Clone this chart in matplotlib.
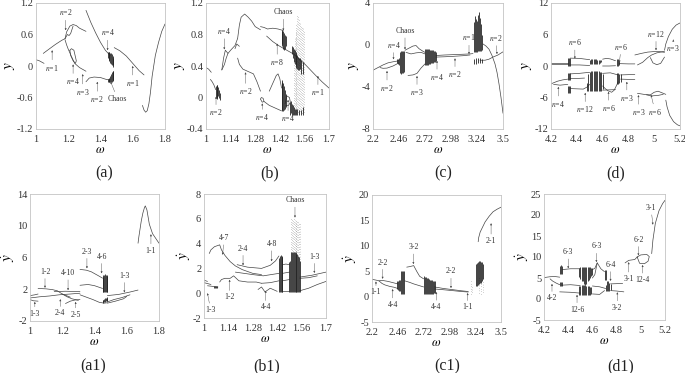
import matplotlib
matplotlib.use('Agg')
import matplotlib.pyplot as plt

plt.rcParams['font.family'] = ['Liberation Serif', 'DejaVu Serif']
plt.rcParams['mathtext.fontset'] = 'stix'

W, H = 685, 373

# (a)
a_xticks = [1, 1.2, 1.4, 1.6, 1.8]
a_yticks = [-1.2, -0.6, 0, 0.6, 1.2]
a_lines = [
    ([1, 1.02, 1.05], [0.12, 0.1, 0.05]),
    ([1.045, 1.08, 1.12, 1.16, 1.18], [0.24, 0.32, 0.41, 0.49, 0.52]),
    ([1.18, 1.19, 1.21, 1.23, 1.25, 1.27, 1.31], [0.52, 0.65, 0.76, 0.79, 0.77, 0.72, 0.66]),
    ([1.18, 1.195, 1.205, 1.215, 1.23], [0.52, 0.6, 0.58, 0.62, 0.76]),
    ([1.18, 1.19, 1.2, 1.22, 1.24, 1.27, 1.31], [0.5, 0.4, 0.32, 0.18, 0.05, -0.03, -0.1]),
    ([1.21, 1.22, 1.235, 1.25, 1.245, 1.23, 1.215, 1.21], [0.3, 0.33, 0.3, 0.1, 0.05, 0.1, 0.2, 0.3]),
    ([1.31, 1.33, 1.36, 1.4, 1.44, 1.46], [-0.3, -0.23, -0.21, -0.22, -0.26, -0.25]),
    ([1.31, 1.34, 1.37, 1.4, 1.43, 1.46], [1.06, 0.83, 0.63, 0.45, 0.3, 0.2]),
    ([1.485, 1.52, 1.56, 1.6, 1.64, 1.67], [0.35, 0.29, 0.19, 0.05, -0.09, -0.17]),
    ([1.66, 1.67, 1.68, 1.69, 1.7, 1.71, 1.72, 1.74, 1.76, 1.78, 1.8],
     [-0.75, -0.84, -0.88, -0.85, -0.72, -0.5, -0.2, 0.2, 0.45, 0.66, 0.8]),
]
a_dark_x = [1.445, 1.45, 1.455, 1.46, 1.465, 1.47, 1.475, 1.48, 1.445, 1.45, 1.455, 1.46, 1.465, 1.47, 1.475, 1.48]
a_dark_lo = [0.16, 0.12, 0.1, 0.06, 0.04, 0.02, -0.02, 0.02, -0.3, -0.3, -0.3, -0.31, -0.3, -0.3, -0.28, -0.26]
a_dark_hi = [0.27, 0.27, 0.26, 0.25, 0.24, 0.22, 0.2, 0.15, -0.24, -0.24, -0.22, -0.19, -0.15, -0.12, -0.1, -0.1]

# (b)
b_xticks = [1, 1.14, 1.28, 1.42, 1.56, 1.7]
b_yticks = [-0.4, 0, 0.4, 0.8, 1.2]
b_lines = [
    ([1, 1.015, 1.03], [0.38, 0.36, 0.32]),
    ([1.025, 1.035, 1.045, 1.055], [0.23, 0.2, 0.16, 0.1]),
    ([1.09, 1.1, 1.11, 1.125, 1.14, 1.165, 1.18], [0.35, 0.5, 0.6, 0.56, 0.6, 0.66, 0.75]),
    ([1.09, 1.105, 1.115, 1.125], [0.35, 0.42, 0.5, 0.56]),
    ([1.18, 1.19, 1.2, 1.22, 1.24, 1.26, 1.28, 1.31], [0.75, 0.92, 1.02, 1.06, 1.02, 0.97, 0.9, 0.86]),
    ([1.165, 1.175, 1.19], [0.62, 0.68, 0.65]),
    ([1.18, 1.19, 1.21, 1.24, 1.27, 1.29, 1.31], [0.5, 0.42, 0.36, 0.33, 0.3, 0.2, 0.08]),
    ([1.31, 1.33, 1.35, 1.38, 1.41, 1.44], [0.9, 0.89, 0.87, 0.88, 0.87, 0.85]),
    ([1.345, 1.38, 1.42, 1.46, 1.5, 1.56, 1.62, 1.66, 1.7], [0.78, 0.71, 0.65, 0.6, 0.55, 0.43, 0.29, 0.2, 0.12]),
    ([1.36, 1.38, 1.4, 1.41, 1.42, 1.43], [0.08, 0.18, 0.28, 0.3, 0.24, 0.12]),
    ([1.31, 1.315, 1.325, 1.33, 1.36, 1.4, 1.43], [-0.02, 0, -0.01, -0.05, -0.1, -0.14, -0.17]),
    ([1.31, 1.32, 1.33], [-0.02, -0.06, -0.05]),
    ([1.45, 1.46, 1.475, 1.48, 1.47, 1.455], [-0.08, 0.02, 0.0, -0.06, -0.1, -0.1]),
]
b_dark_x = [1.055, 1.06, 1.065, 1.07, 1.075, 1.08, 1.43, 1.435, 1.44, 1.445, 1.45, 1.455,
            1.43, 1.435, 1.44, 1.445, 1.45, 1.455, 1.48, 1.485, 1.49, 1.495, 1.5, 1.505, 1.51, 1.52, 1.53, 1.54, 1.55,
            1.49, 1.495, 1.5, 1.505, 1.51, 1.515, 1.52, 1.525, 1.53, 1.535, 1.54, 1.55]
b_dark_lo = [0, -0.02, 0, 0.02, 0, -0.03, -0.16, -0.17, -0.17, -0.16, -0.14, -0.12,
             0.68, 0.65, 0.62, 0.6, 0.62, 0.66, -0.22, -0.2, -0.22, -0.22, -0.22, -0.22, -0.22, -0.22, -0.22, -0.22, -0.22,
             0.55, 0.5, 0.45, 0.42, 0.4, 0.38, 0.36, 0.35, 0.35, 0.36, 0.3, 0.3]
b_dark_hi = [0.15, 0.16, 0.16, 0.13, 0.1, 0.06, 0.2, 0.22, 0.18, 0.14, 0.1, 0.05,
             0.85, 0.86, 0.84, 0.82, 0.8, 0.78, -0.06, -0.04, -0.08, -0.1, -0.12, -0.14, -0.15, -0.15, -0.16, -0.16, -0.12,
             0.65, 0.64, 0.62, 0.6, 0.58, 0.55, 0.54, 0.52, 0.5, 0.5, 0.48, 0.45]
b_light_x = [1.5, 1.505, 1.51, 1.515, 1.52, 1.525, 1.53, 1.535, 1.54, 1.545, 1.55, 1.555]
b_light_lo = [-0.2, -0.2, -0.2, -0.2, -0.2, -0.2, -0.2, -0.2, -0.2, -0.2, -0.2, -0.2]
b_light_hi = [0.6, 0.75, 0.85, 0.95, 1.05, 1.05, 1.0, 0.95, 0.92, 0.9, 0.88, 0.85]

# (c)
c_xticks = [2.2, 2.46, 2.72, 2.98, 3.24, 3.5]
c_yticks = [-8, -4, 0, 4]
c_lines = [
    ([2.2, 2.25, 2.3, 2.35, 2.4, 2.46], [-2.4, -2.15, -1.9, -1.7, -1.6, -1.5]),
    ([2.27, 2.3, 2.34, 2.4, 2.46], [-2.15, -2.22, -2.2, -2.0, -1.7]),
    ([2.52, 2.56, 2.6, 2.63, 2.66, 2.7, 2.72], [-0.5, -0.3, -0.1, -0.05, -0.35, -0.6, -0.7]),
    ([2.53, 2.58, 2.63, 2.68, 2.72], [-0.7, -0.85, -0.75, -0.7, -0.85]),
    ([2.55, 2.6, 2.64, 2.68, 2.72], [-2.9, -2.85, -2.7, -2.2, -1.8]),
    ([2.83, 2.92, 3.0, 3.1, 3.17, 3.2], [-1.0, -0.95, -0.92, -0.88, -0.85, -0.82]),
    ([2.83, 2.92, 3.0, 3.1, 3.17], [-1.15, -1.12, -1.08, -1.02, -0.95]),
    ([3.27, 3.32, 3.36, 3.4, 3.45, 3.5], [-1.45, -1.45, -1.35, -1.15, -0.95, -0.65]),
    ([3.3, 3.33, 3.36, 3.39, 3.42, 3.44, 3.46, 3.48, 3.5], [0.1, -0.1, -0.4, -1.0, -1.8, -2.6, -3.7, -5.0, -6.5]),
]
c_dark_x = [2.44, 2.45, 2.46, 2.47, 2.48, 2.49, 2.5, 2.51, 2.72, 2.73, 2.74, 2.75, 2.76, 2.77, 2.78, 2.79, 2.8, 2.81, 2.82, 2.83,
            3.21, 3.22, 3.23, 3.24, 3.25, 3.26, 3.27, 3.28, 3.29, 3.21, 3.23, 3.25, 3.27, 3.29]
c_dark_lo = [-1.75, -1.8, -1.9, -2.7, -2.8, -2.7, -2.7, -2.6, -1.95, -1.95, -1.9, -1.9, -1.85, -1.8, -1.75, -1.75, -1.7, -1.6, -1.6, -1.5,
             -0.7, -0.7, -0.7, -0.7, -0.6, -0.6, -0.6, -0.6, -0.5, -1.8, -1.8, -1.7, -1.7, -1.7]
c_dark_hi = [-1.35, -1.3, -1.2, -0.7, -0.6, -0.6, -0.55, -0.6, -0.4, -0.35, -0.35, -0.35, -0.4, -0.45, -0.45, -0.5, -0.5, -0.6, -0.6, -0.7,
             2.2, 2.8, 2.5, 2.3, 2.9, 3.1, 2.6, 2.0, 1.0, -1.3, -1.2, -1.2, -1.2, -1.3]

# (d)
d_xticks = [4.2, 4.4, 4.6, 4.8, 5, 5.2]
d_yticks = [-12, -6, 0, 6, 12]
d_lines = [
    ([4.2, 4.27, 4.33], [0.5, 0.5, 0.5]),
    ([4.2, 4.27, 4.33], [0.3, 0.3, 0.3]),
    ([4.35, 4.42, 4.5], [1.5, 1.45, 1.2]),
    ([4.35, 4.42, 4.5], [0.2, 0.2, 0.1]),
    ([4.6, 4.63, 4.66, 4.7], [1.3, 1.45, 1.35, 1.0]),
    ([4.6, 4.65, 4.7], [0, 0, 0.05]),
    ([4.73, 4.8, 4.85], [0.45, 0.4, 0.4]),
    ([4.2, 4.25, 4.29, 4.33], [-3.4, -2.9, -2.65, -2.5]),
    ([4.22, 4.27, 4.33], [-3.5, -3.65, -3.5]),
    ([4.35, 4.42, 4.5], [-1.5, -1.4, -1.2]),
    ([4.35, 4.42, 4.46], [-2.4, -2.35, -2.3]),
    ([4.35, 4.4, 4.45, 4.48, 4.5], [-4.3, -4.35, -4.4, -4.0, -3.5]),
    ([4.6, 4.62, 4.64, 4.67, 4.69, 4.71, 4.72], [-3.8, -4.3, -4.7, -5.0, -4.6, -3.6, -3.0]),
    ([4.6, 4.65, 4.7], [-4.6, -4.55, -4.5]),
    ([4.6, 4.66, 4.72], [-1.4, -1.3, -1.7]),
    ([4.74, 4.8, 4.85], [-1.7, -1.65, -1.6]),
    ([4.74, 4.8, 4.85], [-2.5, -2.55, -2.6]),
    ([4.85, 4.9, 4.95, 5.0, 5.04, 5.08], [2.1, 2.4, 2.65, 2.75, 2.75, 2.6]),
    ([4.87, 4.91, 4.95, 4.98, 5.02, 5.08], [0.2, 0.7, 1.6, 2.1, 2.5, 2.8]),
    ([4.97, 4.99, 5.02, 5.05, 5.08], [1.6, 0.6, 0.25, 0.5, 1.7]),
    ([5.08, 5.09, 5.11, 5.14, 5.17, 5.2], [3.0, 4.2, 5.6, 7.0, 7.8, 8.2]),
    ([4.87, 4.92, 4.97, 5.0, 5.03, 5.06, 5.09], [-5.2, -5.4, -5.5, -5.0, -4.8, -5.1, -5.4]),
    ([4.94, 4.98, 5.03, 5.07], [-5.5, -5.7, -5.6, -5.4]),
    ([5.09, 5.1, 5.12, 5.15, 5.18, 5.2], [-6.5, -7.8, -9.4, -10.6, -11.2, -11.4]),
]
d_dark_x = [4.33, 4.34, 4.35, 4.33, 4.34, 4.35, 4.33, 4.34, 4.35,
            4.5, 4.51, 4.52, 4.53, 4.54, 4.55, 4.56, 4.57, 4.58, 4.59,
            4.48, 4.49, 4.5, 4.51, 4.52, 4.53, 4.54, 4.55, 4.56, 4.57, 4.58, 4.59, 4.6,
            4.71, 4.72, 4.73, 4.74, 4.71, 4.72, 4.73]
d_dark_lo = [0, 0, 0, -2.7, -2.7, -2.7, -5.1, -5.1, -5.1,
             0.4, 0.35, 0.3, 0.3, 0.3, 0.3, 0.35, 0.4, 0.5, 0.7,
             -4.7, -4.8, -4.8, -4.8, -4.8, -4.8, -4.8, -4.8, -4.8, -4.8, -4.8, -4.7, -4.4,
             -3.4, -3.4, -3.3, -3.1, 0, 0, 0.1]
d_dark_hi = [1.6, 1.6, 1.6, -1.4, -1.4, -1.4, -3.9, -3.9, -3.9,
             1.2, 1.3, 1.3, 1.3, 1.3, 1.25, 1.2, 1.15, 1.1, 1.1,
             -3.3, -1.5, -1.2, -1.0, -1.0, -1.0, -1.0, -1.0, -1.0, -1.0, -1.1, -1.2, -1.6,
             -1.4, -1.4, -1.5, -1.6, 1.3, 1.3, 1.0]

# (a1)
a1_xticks = [1, 1.2, 1.4, 1.6, 1.8]
a1_yticks = [-2, 2, 6, 10, 14]
a1_lines = [
    ([1, 1.03, 1.05], [1.2, 1.3, 1.4]),
    ([1, 1.06, 1.12, 1.18, 1.25, 1.31], [0.9, 1.05, 1.15, 1.3, 1.4, 1.5]),
    ([1, 1.02, 1.05], [0.7, 0.55, 0.5]),
    ([1.05, 1.1, 1.14, 1.17, 1.2, 1.25], [2.1, 2.05, 1.95, 1.8, 1.4, 1.0]),
    ([1.15, 1.22, 1.31], [1.7, 1.75, 1.7]),
    ([1.2, 1.23, 1.26, 1.3], [1.4, 1.05, 0.8, 0.6]),
    ([1.22, 1.25, 1.28, 1.31], [0.2, 0.5, 0.65, 0.7]),
    ([1.31, 1.35, 1.38, 1.42, 1.45], [4.5, 4.4, 4.2, 3.75, 3.4]),
    ([1.31, 1.36, 1.4, 1.45], [2.5, 2.6, 2.45, 2.1]),
    ([1.31, 1.35, 1.39, 1.43, 1.46, 1.48], [1.3, 1.0, 0.7, 0.35, 0.25, 0.3]),
    ([1.48, 1.52, 1.57, 1.62], [0.4, 0.7, 0.95, 1.3]),
    ([1.48, 1.53, 1.58, 1.6], [0.25, 0.5, 0.8, 1.1]),
    ([1.48, 1.55, 1.62, 1.67], [1.2, 1.35, 1.65, 1.9]),
    ([1.67, 1.675, 1.69, 1.7, 1.71, 1.715, 1.725, 1.74, 1.76, 1.78, 1.8],
     [7.8, 8.6, 10.6, 11.6, 12.3, 12.5, 12.0, 10.2, 9.0, 8.4, 7.8]),
]
a1_dark_x = [1.45, 1.455, 1.46, 1.465, 1.47, 1.475, 1.48, 1.45, 1.455, 1.46, 1.465, 1.47, 1.475, 1.48]
a1_dark_lo = [1.7, 1.6, 1.7, 1.6, 1.6, 1.7, 1.7, 0.3, 0.35, 0.4, 0.45, 0.5, 0.5, 0.55]
a1_dark_hi = [3.6, 3.8, 3.8, 3.9, 3.8, 3.8, 3.7, 0.6, 0.7, 0.8, 0.85, 0.9, 0.95, 1.0]

# (b1)
b1_xticks = [1, 1.14, 1.28, 1.42, 1.56, 1.7]
b1_yticks = [-2, 0, 2, 4, 6, 8]
b1_lines = [
    ([1, 1.01, 1.02], [1.05, 1.0, 0.95]),
    ([1, 1.02, 1.04], [0.85, 0.78, 0.7]),
    ([1.02, 1.05, 1.08], [0.6, 0.55, 0.5]),
    ([1.03, 1.04, 1.06, 1.08, 1.09, 1.1, 1.12, 1.15, 1.18, 1.22, 1.28, 1.33],
     [3.2, 3.5, 3.75, 3.85, 3.9, 3.5, 3.05, 2.55, 2.2, 1.9, 1.6, 1.5]),
    ([1.19, 1.25, 1.33, 1.38, 1.41, 1.43], [2.3, 2.1, 2.0, 2.25, 2.6, 3.0]),
    ([1.09, 1.1, 1.12, 1.15, 1.17, 1.2, 1.25, 1.3, 1.33], [0.9, 1.1, 1.2, 1.2, 1.4, 1.0, 0.9, 0.9, 0.8]),
    ([1.18, 1.28, 1.34, 1.43], [1.7, 1.5, 1.4, 1.6]),
    ([1.31, 1.33, 1.35, 1.38, 1.42], [0.3, 0.5, 0.1, 0.4, 0.15]),
    ([1.33, 1.38, 1.43], [0.8, 0.85, 1.0]),
    ([1.45, 1.47, 1.49], [2.3, 2.35, 2.3]),
    ([1.45, 1.47, 1.49], [1.6, 1.65, 1.7]),
    ([1.45, 1.47, 1.49], [1.0, 1.05, 1.1]),
    ([1.45, 1.47, 1.49], [0.2, 0.2, 0.2]),
    ([1.55, 1.62, 1.7], [1.3, 1.45, 1.7]),
    ([1.55, 1.6, 1.65], [1.2, 1.25, 1.4]),
    ([1.55, 1.6, 1.65, 1.7], [0.2, 0.4, 0.7, 0.95]),
]
b1_dark_x = [1.06, 1.065, 1.07, 1.075, 1.43, 1.435, 1.44, 1.445, 1.45,
             1.49, 1.495, 1.5, 1.505, 1.51, 1.515, 1.52, 1.525, 1.53, 1.535, 1.54, 1.545, 1.55]
b1_dark_lo = [0.4, 0.4, 0.4, 0.4, 0.1, 0.1, 0.1, 0.1, 0.1, 0.1, 0.1, 0.1, 0.1, 0.1, 0.1, 0.1, 0.1, 0.1, 0.1, 0.1, 0.1, 0.1]
b1_dark_hi = [0.6, 0.6, 0.6, 0.6, 2.8, 3.0, 3.05, 3.0, 2.9, 2.5, 2.6, 3.3, 3.3, 3.3, 3.3, 3.3, 3.3, 3.2, 3.2, 3.0, 2.9, 2.6]
b1_light_x = [1.5, 1.505, 1.51, 1.515, 1.52, 1.525, 1.53, 1.535, 1.54, 1.545, 1.55]
b1_light_lo = [3.3, 3.3, 3.3, 3.3, 3.3, 3.3, 3.2, 3.2, 3.0, 2.9, 2.6]
b1_light_hi = [6.0, 6.0, 6.0, 5.95, 5.9, 5.85, 5.8, 5.8, 5.75, 5.7, 5.7]

# (c1)
c1_xticks = [2.2, 2.46, 2.72, 2.98, 3.24, 3.5]
c1_yticks = [-5, 0, 5, 10, 15, 20]
c1_lines = [
    ([2.2, 2.24, 2.27, 2.3, 2.36, 2.42, 2.46], [3.4, 3.25, 3.1, 3.2, 3.0, 2.7, 2.5]),
    ([2.27, 2.3, 2.33, 2.38, 2.42, 2.46], [3.1, 2.6, 2.3, 2.0, 1.85, 1.6]),
    ([2.53, 2.58, 2.62, 2.67, 2.72], [3.1, 2.8, 2.5, 2.2, 1.9]),
    ([2.55, 2.58, 2.62, 2.65, 2.68, 2.72], [5.8, 5.9, 6.1, 5.0, 4.0, 3.5]),
    ([2.83, 2.92, 3.0, 3.1, 3.17], [1.9, 1.6, 1.4, 1.15, 1.0]),
    ([2.83, 2.92, 3.0, 3.1, 3.17], [1.5, 1.35, 1.2, 1.0, 0.9]),
    ([3.27, 3.275, 3.29, 3.31, 3.34, 3.38, 3.42, 3.46, 3.5], [10.8, 11.6, 12.7, 13.5, 14.7, 15.8, 16.7, 17.2, 17.6]),
]
c1_dark_x = [2.45, 2.46, 2.47, 2.48, 2.49, 2.5, 2.51, 2.52, 2.72, 2.73, 2.74, 2.75, 2.76, 2.77, 2.78, 2.79, 2.8, 2.81, 2.82, 2.83,
             3.25, 3.26, 3.27, 3.28, 3.29, 3.3, 3.31, 3.32]
c1_dark_lo = [1.4, 1.3, 1.2, 1.2, 0.5, 0.5, 0.5, 0.5, 0.5, 0.5, 0.45, 0.45, 0.45, 0.5, 0.5, 0.55, 0.55, 0.6, 0.65, 0.7,
              2.0, 2.0, 2.2, 2.4, 2.6, 2.6, 3.0, 3.5]
c1_dark_hi = [3.0, 3.1, 3.2, 3.2, 5.0, 5.1, 5.0, 5.0, 4.0, 3.9, 3.8, 3.7, 3.6, 3.4, 3.3, 3.2, 3.2, 3.1, 3.1, 3.0,
              6.5, 6.6, 6.8, 7.0, 7.0, 6.9, 6.8, 6.5]
c1_light_x = [3.2, 3.21, 3.28, 3.3, 3.32]
c1_light_lo = [0.5, 0.5, 0.5, 0.5, 0.5]
c1_light_hi = [3.0, 2.2, 4.0, 3.0, 3.0]

# (d1)
d1_xticks = [4.2, 4.4, 4.6, 4.8, 5, 5.2]
d1_yticks = [-5, 0, 5, 10, 15, 20, 25]
d1_lines = [
    ([4.2, 4.25, 4.29, 4.33], [5.1, 5.3, 5.35, 5.2]),
    ([4.25, 4.27, 4.3, 4.33], [4.8, 4.3, 3.8, 3.4]),
    ([4.35, 4.42, 4.5], [7.0, 7.2, 7.2]),
    ([4.35, 4.42, 4.5], [3.3, 3.4, 3.2]),
    ([4.33, 4.42, 4.5], [1.7, 1.6, 1.4]),
    ([4.6, 4.62, 4.64, 4.67, 4.7], [7.0, 7.3, 8.6, 7.2, 6.5]),
    ([4.6, 4.62, 4.64], [5.0, 5.8, 8.6]),
    ([4.75, 4.8, 4.85], [3.6, 3.65, 3.7]),
    ([4.75, 4.8, 4.86], [2.0, 1.9, 1.7]),
    ([4.6, 4.66, 4.71], [3.1, 2.9, 2.5]),
    ([4.6, 4.66, 4.7], [1.2, 1.1, 2.0]),
    ([4.87, 4.9, 4.95, 4.97], [8.6, 9.2, 9.4, 10.0]),
    ([4.97, 5.0, 5.05, 5.07, 5.06, 5.03, 4.99, 4.97], [10.0, 10.5, 10.6, 10.1, 9.0, 8.4, 8.5, 10.0]),
    ([5.09, 5.1, 5.12, 5.15, 5.18, 5.2], [10.8, 14.0, 18.0, 21.0, 22.7, 23.5]),
]
d1_dark_x = [4.33, 4.34, 4.35, 4.33, 4.34, 4.35, 4.7, 4.71,
             4.49, 4.5, 4.51, 4.52, 4.53, 4.54, 4.55, 4.56, 4.57, 4.58, 4.59, 4.6,
             4.49, 4.5, 4.51, 4.52, 4.53, 4.54, 4.55, 4.56, 4.57, 4.58, 4.59,
             4.71, 4.72, 4.73, 4.74, 4.75]
d1_dark_lo = [6.0, 5.9, 5.9, 3.0, 3.0, 3.0, 4.6, 4.5,
              5.2, 4.8, 4.4, 4.2, 3.6, 3.4, 3.6, 4.2, 4.6, 5.0, 5.4, 5.8,
              1.0, 1.0, 1.0, 1.0, 1.0, 1.0, 1.0, 1.0, 1.0, 1.0, 1.1,
              1.9, 1.9, 1.9, 2.0, 2.1]
d1_dark_hi = [7.9, 8.0, 7.9, 4.0, 4.0, 4.0, 7.0, 6.8,
              7.5, 7.6, 7.6, 7.6, 7.6, 7.6, 7.6, 7.6, 7.6, 7.6, 7.5, 7.4,
              3.2, 3.2, 3.4, 3.4, 3.4, 3.4, 3.2, 3.1, 3.0, 2.9, 2.8,
              3.4, 4.2, 4.2, 3.8, 3.6]


def panel(box, xlim, ylim, xticks, yticks, lines, dark, light=None, ylab='$y$', caption='', capx=0, capy=0):
    l, t, r, b = box
    ax = fig.add_axes([l / W, 1 - b / H, (r - l) / W, (b - t) / H])
    for x, y in lines:
        ax.plot(x, y, color='#444444', lw=0.5, solid_capstyle='round')
    if light is not None:
        ax.vlines(light[0], light[1], light[2], color='#666666', lw=0.5,
                  linestyles=[(0, (0.6, 3)), (1.1, (0.6, 3)), (2.3, (0.6, 3))])
    ax.vlines(dark[0], dark[1], dark[2], color='#222222', lw=0.6)
    ax.set_xlim(xlim)
    ax.set_ylim(ylim)
    ax.set_xticks(xticks, [f'{v:g}' for v in xticks])
    ax.set_yticks(yticks, [f'{v:g}' for v in yticks])
    ax.tick_params(length=0, labelsize=7.5, colors='#333333')
    ax.tick_params(axis='x', pad=4.5)
    ax.tick_params(axis='y', pad=2)
    for s in ax.spines.values():
        s.set_color('#c4c4c4')
        s.set_linewidth(0.6)
    ax.set_xlabel(r'$\omega$', fontsize=9, labelpad=0)
    ax.set_ylabel(ylab, fontsize=11, labelpad=0)
    fig.text(capx / W, 1 - capy / H, caption, fontsize=11.5, ha='center', va='center', color='#222222')
    return ax


def note(ax, label, tip, txt):
    ax.annotate(label, xy=tip, xytext=txt, fontsize=5.6, ha='center', va='center', color='#333333',
                arrowprops=dict(arrowstyle='-|>', lw=0.3, color='#444444', mutation_scale=2.5,
                                shrinkA=0, shrinkB=0))


fig = plt.figure(figsize=(W / 100, H / 100), dpi=100)
N = r'$n$='
YD = r'$\dot{y}$'

ax = panel((36, 3, 165, 129), (1, 1.8), (-1.2, 1.2), a_xticks, a_yticks, a_lines,
           (a_dark_x, a_dark_lo, a_dark_hi), caption='(a)', capx=104, capy=173)
note(ax, N + '1', (1.10, 0.3), (1.10, -0.03))
note(ax, N + '2', (1.184, 0.68), (1.184, 1.02))
note(ax, N + '4', (1.23, 0.03), (1.23, -0.29))
note(ax, N + '3', (1.29, -0.155), (1.29, -0.49))
note(ax, N + '2', (1.38, -0.30), (1.38, -0.63))
note(ax, 'Chaos', (1.463, -0.30), (1.505, -0.62))
note(ax, N + '4', (1.444, 0.30), (1.444, 0.64))
note(ax, N + '1', (1.60, 0.0), (1.60, -0.32))

ax = panel((206, 3, 329, 129), (1, 1.7), (-0.4, 1.2), b_xticks, b_yticks, b_lines,
           (b_dark_x, b_dark_lo, b_dark_hi), (b_light_x, b_light_lo, b_light_hi), caption='(b)', capx=270, capy=173)
note(ax, N + '2', (1.057, 0.01), (1.057, -0.19))
note(ax, N + '4', (1.104, 0.61), (1.104, 0.845))
note(ax, N + '2', (1.225, 0.32), (1.225, 0.08))
note(ax, N + '4', (1.32, -0.075), (1.32, -0.25))
note(ax, N + '8', (1.405, 0.685), (1.405, 0.45))
note(ax, 'Chaos', (1.44, 0.85), (1.44, 1.08))
note(ax, N + '4', (1.467, -0.03), (1.467, -0.265))
note(ax, N + '1', (1.637, 0.275), (1.637, 0.065))

ax = panel((373, 3, 503, 129), (2.2, 3.5), (-8, 4), c_xticks, c_yticks, c_lines,
           (c_dark_x, c_dark_lo, c_dark_hi), caption='(c)', capx=443, capy=173)
note(ax, N + '2', (2.34, -2.47), (2.34, -4.08))
note(ax, N + '4', (2.405, -1.37), (2.405, 0.02))
note(ax, 'Chaos', (2.52, -0.42), (2.52, 1.32))
note(ax, N + '3', (2.64, -2.95), (2.64, -4.5))
note(ax, N + '4', (2.84, -1.5), (2.84, -3.05))
note(ax, N + '2', (3.02, -1.27), (3.02, -2.8))
note(ax, N + '1', (3.16, -0.86), (3.16, 0.72))
note(ax, N + '2', (3.44, -0.86), (3.43, 0.68))

ax = panel((551, 3, 680, 129), (4.2, 5.2), (-12, 12), d_xticks, d_yticks, d_lines,
           (d_dark_x, d_dark_lo, d_dark_hi), caption='(d)', capx=616, capy=173)
note(ax, N + '6', (4.385, 1.42), (4.385, 4.53))
note(ax, N + '6', (4.73, 0.66), (4.744, 3.7))
note(ax, N + '12', (5.014, 3.0), (5.014, 6.17))
note(ax, N + '3', (5.148, 5.03), (5.148, 3.45))
note(ax, N + '3', (4.788, -3.0), (4.788, -6.05))
note(ax, N + '3', (4.878, -5.54), (4.878, -8.77))
note(ax, N + '6', (4.976, -5.54), (5.007, -8.7))
note(ax, N + '12', (4.465, -5.1), (4.465, -8.27))
note(ax, N + '6', (4.646, -4.9), (4.646, -8.0))
note(ax, N + '4', (4.257, -3.96), (4.257, -7.2))

ax = panel((30, 194, 159, 321), (1, 1.8), (-2, 14), a1_xticks, a1_yticks, a1_lines,
           (a1_dark_x, a1_dark_lo, a1_dark_hi), ylab=YD, caption='(a1)', capx=93, capy=366)
note(ax, '1-2', (1.093, 2.18), (1.093, 4.2))
note(ax, '4-10', (1.236, 1.88), (1.236, 4.04))
note(ax, '2-3', (1.353, 4.63), (1.353, 6.74))
note(ax, '4-6', (1.444, 4.0), (1.444, 6.1))
note(ax, '1-3', (1.585, 1.59), (1.585, 3.7))
note(ax, '1-1', (1.75, 8.93), (1.75, 6.87))
note(ax, '1-3', (1.03, 0.41), (1.03, -1.07))
note(ax, '2-4', (1.188, 0.75), (1.188, -1.03))
note(ax, '2-5', (1.283, 0.41), (1.283, -1.2))

ax = panel((204, 194, 326, 318), (1, 1.7), (-2, 8), b1_xticks, b1_yticks, b1_lines,
           (b1_dark_x, b1_dark_lo, b1_dark_hi), (b1_light_x, b1_light_lo, b1_light_hi), ylab=YD,
           caption='(b1)', capx=267, capy=366)
note(ax, '1-3', (1.02, 0.0), (1.038, -1.35))
note(ax, '4-7', (1.107, 3.1), (1.115, 4.45))
note(ax, '2-4', (1.224, 2.25), (1.224, 3.6))
note(ax, '4-8', (1.388, 2.57), (1.388, 3.97))
note(ax, 'Chaos', (1.522, 6.1), (1.522, 7.49))
note(ax, '1-3', (1.633, 1.63), (1.633, 2.95))
note(ax, '1-2', (1.147, 1.09), (1.147, -0.33))
note(ax, '4-4', (1.354, 0.2), (1.354, -1.14))

ax = panel((372, 195, 501, 322), (2.2, 3.5), (-5, 20), c1_xticks, c1_yticks, c1_lines,
           (c1_dark_x, c1_dark_lo, c1_dark_hi), (c1_light_x, c1_light_lo, c1_light_hi), ylab=YD,
           caption='(c1)', capx=447, capy=366)
note(ax, '2-2', (2.307, 3.5), (2.307, 6.7))
note(ax, '1-1', (2.24, 2.98), (2.24, 0.82))
note(ax, '4-4', (2.408, 1.48), (2.408, -1.6))
note(ax, '3-2', (2.617, 6.39), (2.617, 9.73))
note(ax, '4-4', (2.848, 0.9), (2.848, -2.05))
note(ax, '2-2', (2.996, 1.68), (2.996, 4.95))
note(ax, '1-1', (3.164, 0.7), (3.164, -2.12))
note(ax, '2-1', (3.4, 14.44), (3.4, 10.97))

ax = panel((544, 194, 665, 320), (4.2, 5.2), (-5, 25), d1_xticks, d1_yticks, d1_lines,
           (d1_dark_x, d1_dark_lo, d1_dark_hi), ylab=YD, caption='(d1)', capx=621, capy=366)
note(ax, '6-3', (4.4, 7.3), (4.4, 11.15))
note(ax, '4-2', (4.266, 3.6), (4.266, 0.18))
note(ax, '12-6', (4.473, 1.0), (4.473, -2.5))
note(ax, '6-3', (4.633, 8.77), (4.633, 12.5))
note(ax, '6-4', (4.75, 4.3), (4.75, 8.13))
note(ax, '3-2', (4.806, 1.6), (4.806, -2.05))
note(ax, '3-1', (4.9, 8.77), (4.9, 4.8))
note(ax, '6-2', (4.98, 10.36), (4.98, 14.1))
note(ax, '12-4', (5.015, 8.1), (5.015, 4.55))
note(ax, '3-1', (5.1, 17.7), (5.084, 21.66))

fig.savefig('out.png', dpi=100)
